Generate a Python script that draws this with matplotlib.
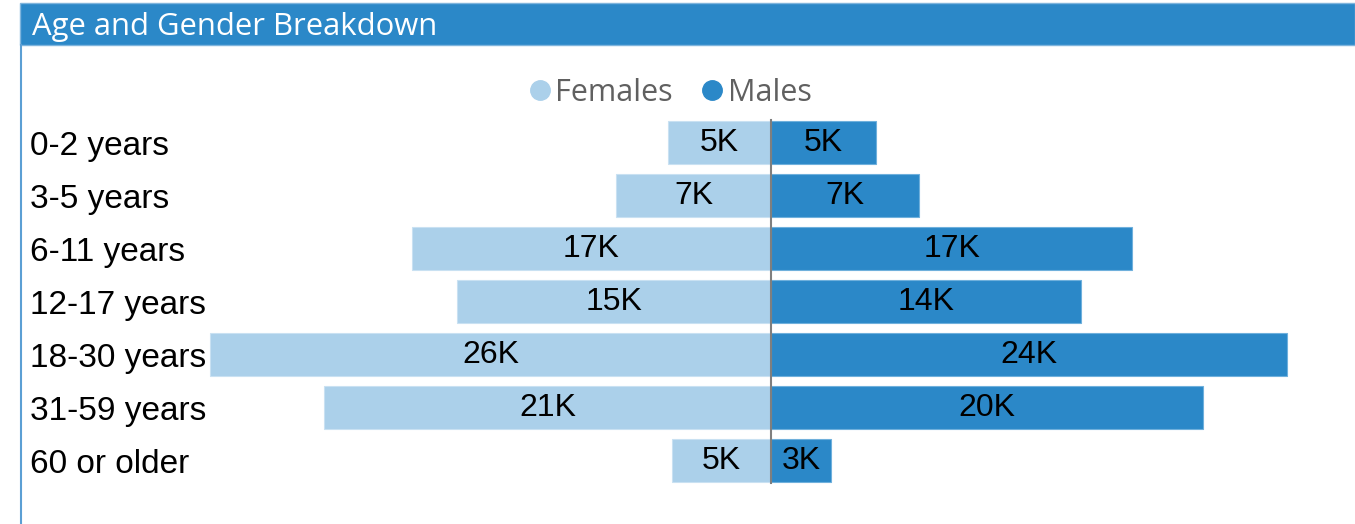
import matplotlib.pyplot as plt
from matplotlib.lines import Line2D
from matplotlib.patches import Rectangle
import matplotlib.transforms as mtrans

# values in thousands
age_groups = ["0-2 years", "3-5 years", "6-11 years", "12-17 years",
              "18-30 years", "31-59 years", "60 or older"]
females = [4.8, 7.2, 16.7, 14.6, 26.1, 20.8, 4.6]
males = [4.9, 6.9, 16.8, 14.4, 24.0, 20.1, 2.8]

light_blue = "#abd0ea"
dark_blue = "#2b88c8"

W, H = 1355, 524
fig = plt.figure(figsize=(W / 100, H / 100), dpi=100)

# axes placed in pixels: zero line at x=771, ~21.5 px per thousand
px_per_k = 21.5
ax_left, ax_right = 200, 1345
ax_top, ax_bottom = 116, 487
ax = fig.add_axes([ax_left / W, (H - ax_bottom) / H,
                   (ax_right - ax_left) / W, (ax_bottom - ax_top) / H])
ax.set_xlim(-(771 - ax_left) / px_per_k, (ax_right - 771) / px_per_k)
ax.set_ylim(len(age_groups) - 0.5, -0.5)

ys = list(range(len(age_groups)))
ax.barh(ys, [-f for f in females], height=0.83, color=light_blue,
        edgecolor="#c9e1f2", linewidth=0.8)
ax.barh(ys, males, height=0.83, color=dark_blue,
        edgecolor="#6fb0dc", linewidth=0.8)
ax.axvline(0, color="#7f7f7f", lw=1.5, ymin=0.01, ymax=0.99)

for y, f, m in zip(ys, females, males):
    ax.text(-f / 2, y, f"{round(f)}K", ha="center", va="center",
            color="black", family=["Liberation Sans", "DejaVu Sans"], fontsize=23)
    ax.text(m / 2, y, f"{round(m)}K", ha="center", va="center",
            color="black", family=["Liberation Sans", "DejaVu Sans"], fontsize=23)

trans = mtrans.blended_transform_factory(fig.transFigure, ax.transData)
for y, name in zip(ys, age_groups):
    ax.text(30 / W, y + 0.08, name, transform=trans, ha="left", va="center",
            color="black", family=["Liberation Sans", "DejaVu Sans"], fontsize=24)

ax.axis("off")

# title bar and left border
fig.patches.append(Rectangle((20 / W, (H - 45) / H), 1 - 20 / W, 42 / H,
                             transform=fig.transFigure, facecolor=dark_blue,
                             edgecolor="#7fb5dd", linewidth=1))
fig.lines.append(Line2D([20.5 / W, 20.5 / W], [0, (H - 45) / H],
                        transform=fig.transFigure, color="#5b9fd4", lw=1.5))
fig.text(32 / W, (H - 27) / H, "Age and Gender Breakdown", color="white",
         family=["Open Sans", "DejaVu Sans"], fontsize=22.3, ha="left", va="center")

handles = [Line2D([], [], marker="o", ls="", color=light_blue, markersize=14),
           Line2D([], [], marker="o", ls="", color=dark_blue, markersize=14)]
leg = fig.legend(handles, ["Females", "Males"], loc="center",
                 bbox_to_anchor=(671 / W, (H - 93) / H), ncol=2, frameon=False,
                 handlelength=0.6, handletextpad=0.2, columnspacing=1.0,
                 prop={"family": ["Open Sans", "DejaVu Sans"], "size": 22})
for t in leg.get_texts():
    t.set_color("#606060")

fig.savefig("out.png", dpi=100)
